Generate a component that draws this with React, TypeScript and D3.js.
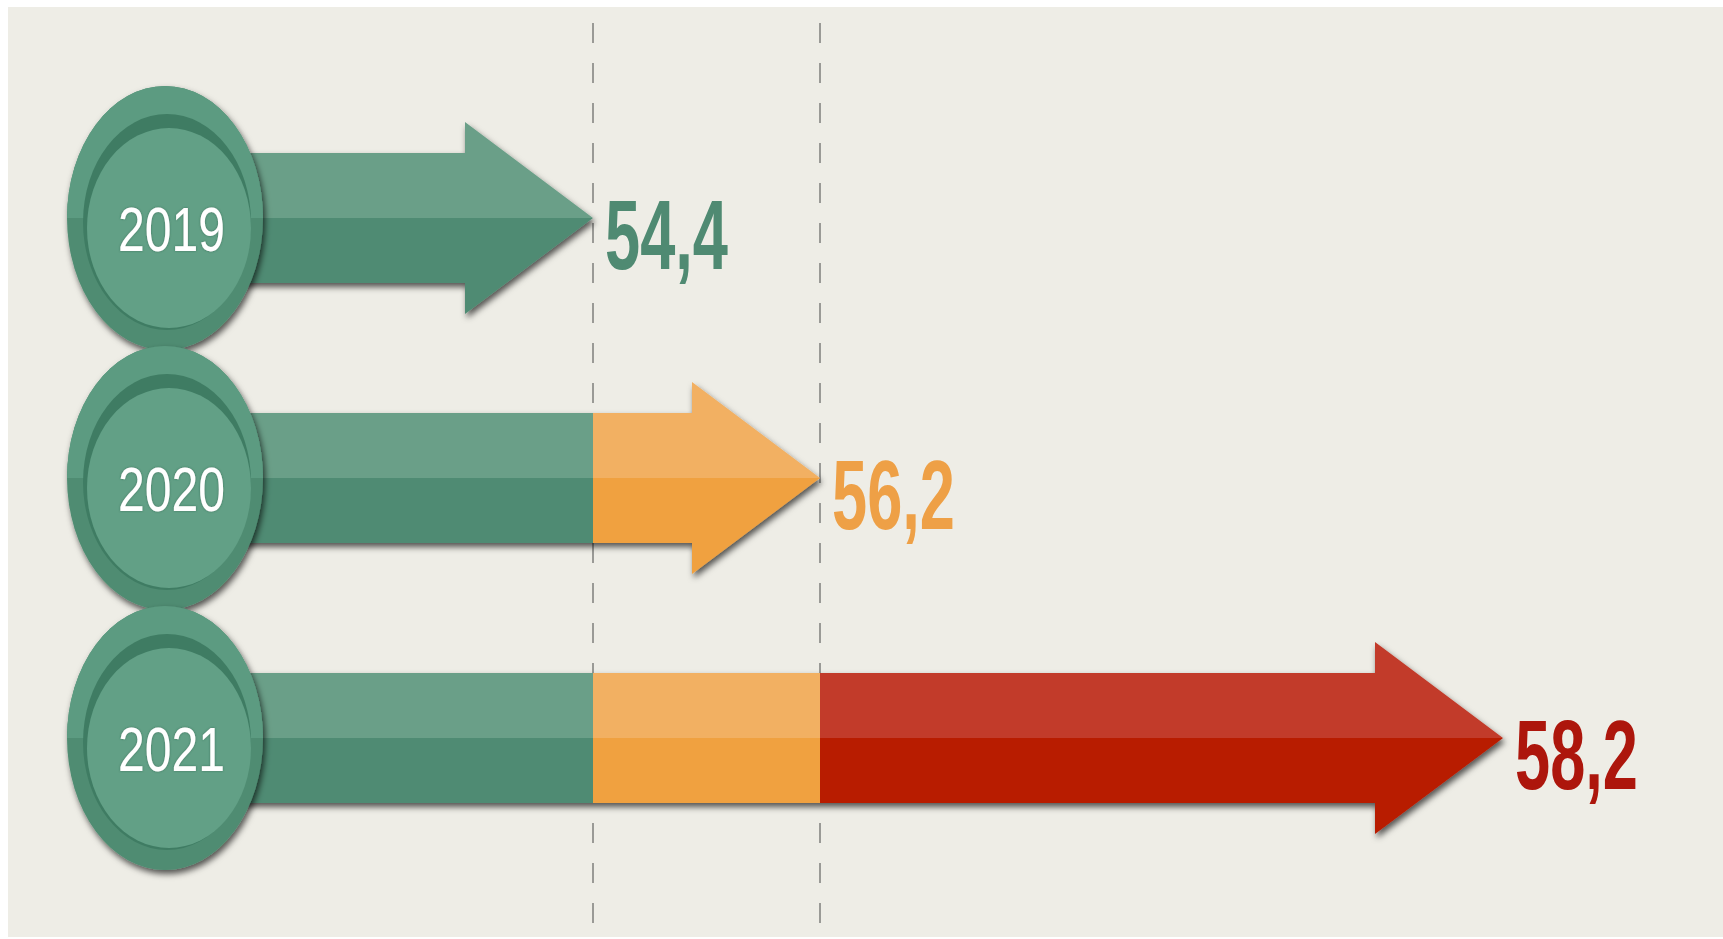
// @ts-nocheck
import { useRef, useEffect } from "react";
import * as d3 from "d3";

const years = ["2019", "2020", "2021"];
const values = [54.4, 56.2, 58.2];
const valueLabels = ["54,4", "56,2", "58,2"];

const lightColors = ["#6a9f88", "#f2b062", "#c23b29"];
const darkColors = ["#4f8b73", "#f0a141", "#b81a02"];
const labelColors = ["#4f8a72", "#eea046", "#ad160c"];

const App = () => {
  const svgRef = useRef();

  useEffect(() => {
    const width = 1723;
    const height = 939;
    const svg = d3.select(svgRef.current);
    svg.selectAll("*").remove();
    svg.attr("width", width).attr("height", height);

    // the picture is not drawn to scale, so a piecewise scale
    const x = d3.scaleLinear().domain(values).range([593, 820, 1503]);
    const y = d3.scalePoint().domain(years).range([218, 738]);

    const circleX = 165;
    const barHalf = 65;
    const headHalf = 96;
    const headLen = 128;
    const font = "'Liberation Sans Narrow', 'Liberation Sans', Arial, sans-serif";

    const defs = svg.append("defs");
    const shadow = defs
      .append("filter")
      .attr("id", "shadow")
      .attr("x", "-20%")
      .attr("y", "-20%")
      .attr("width", "140%")
      .attr("height", "150%");
    shadow
      .append("feDropShadow")
      .attr("dx", 2)
      .attr("dy", 4)
      .attr("stdDeviation", 3)
      .attr("flood-color", "#000")
      .attr("flood-opacity", 0.65);

    const glow = defs.append("filter").attr("id", "glow");
    glow
      .append("feDropShadow")
      .attr("dx", 0)
      .attr("dy", 0)
      .attr("stdDeviation", 1)
      .attr("flood-color", "#2d5e4a")
      .attr("flood-opacity", 0.7);

    // background panel
    svg.append("rect").attr("width", width).attr("height", height).attr("fill", "#ffffff");
    svg
      .append("rect")
      .attr("x", 8)
      .attr("y", 7)
      .attr("width", width - 8)
      .attr("height", 930)
      .attr("fill", "#eeede6");

    // dashed reference lines at the previous years' values
    svg
      .selectAll(".ref")
      .data(values.slice(0, 2))
      .enter()
      .append("line")
      .attr("x1", (d) => x(d))
      .attr("x2", (d) => x(d))
      .attr("y1", 23)
      .attr("y2", 930)
      .attr("stroke", "#9a9a96")
      .attr("stroke-width", 2)
      .attr("stroke-dasharray", "20,20");

    years.forEach((yr, i) => {
      const cy = y(yr);
      const tip = x(values[i]);
      const base = tip - headLen;

      const arrowPath = [
        [circleX, cy - barHalf],
        [base, cy - barHalf],
        [base, cy - headHalf],
        [tip, cy],
        [base, cy + headHalf],
        [base, cy + barHalf],
        [circleX, cy + barHalf],
      ];

      defs
        .append("clipPath")
        .attr("id", `clip${i}`)
        .append("path")
        .attr("d", d3.line()(arrowPath) + "Z");

      const g = svg.append("g").attr("filter", "url(#shadow)");
      const inner = g.append("g").attr("clip-path", `url(#clip${i})`);

      // segments: green up to 54.4, orange up to 56.2, red up to 58.2
      for (let s = 0; s <= i; s++) {
        const x0 = s === 0 ? circleX : x(values[s - 1]);
        const x1 = s === i ? tip : x(values[s]);
        inner
          .append("rect")
          .attr("x", x0)
          .attr("y", cy - headHalf)
          .attr("width", x1 - x0)
          .attr("height", headHalf)
          .attr("fill", lightColors[s]);
        inner
          .append("rect")
          .attr("x", x0)
          .attr("y", cy)
          .attr("width", x1 - x0)
          .attr("height", headHalf)
          .attr("fill", darkColors[s]);
      }

      // value label
      svg
        .append("text")
        .attr("x", tip + 12)
        .attr("y", cy + 51)
        .attr("font-family", font)
        .attr("font-weight", "bold")
        .attr("font-size", 98)
        .attr("textLength", 123)
        .attr("lengthAdjust", "spacingAndGlyphs")
        .attr("fill", labelColors[i])
        .text(valueLabels[i]);
    });

    // year badges
    years.forEach((yr) => {
      const cy = y(yr);
      const badge = svg.append("g");
      const outer = badge.append("g").attr("filter", "url(#shadow)");
      outer
        .append("ellipse")
        .attr("cx", circleX)
        .attr("cy", cy)
        .attr("rx", 98)
        .attr("ry", 132)
        .attr("fill", "#4f8c72");
      outer
        .append("path")
        .attr(
          "d",
          d3.arc()({
            innerRadius: 0,
            outerRadius: 1,
            startAngle: -Math.PI / 2,
            endAngle: Math.PI / 2,
          })
        )
        .attr("transform", `translate(${circleX},${cy}) scale(98,132)`)
        .attr("fill", "#5c9b81");
      badge
        .append("ellipse")
        .attr("cx", circleX + 2)
        .attr("cy", cy + 4)
        .attr("rx", 84)
        .attr("ry", 108)
        .attr("fill", "#3f7c63");
      badge
        .append("ellipse")
        .attr("cx", circleX + 4)
        .attr("cy", cy + 10)
        .attr("rx", 82)
        .attr("ry", 100)
        .attr("fill", "#62a086");
      badge
        .append("text")
        .attr("x", circleX - 47)
        .attr("y", cy + 33)
        .attr("font-family", font)
        .attr("font-size", 63)
        .attr("textLength", 107)
        .attr("lengthAdjust", "spacingAndGlyphs")
        .attr("fill", "#ffffff")
        .attr("filter", "url(#glow)")
        .text(yr);
    });
  }, []);

  return (
    <svg
      ref={svgRef}
      style={{ position: "absolute", left: 0, top: 0, display: "block" }}
    ></svg>
  );
};

export default App;
